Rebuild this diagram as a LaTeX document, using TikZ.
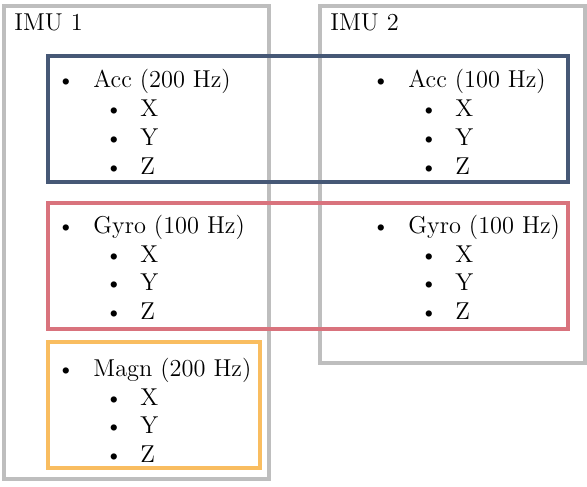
\documentclass[tikz,border=0pt]{standalone}
\usepackage{tikz}
\definecolor{imugray}{RGB}{190,190,190}
\definecolor{accblue}{RGB}{70,88,118}
\definecolor{gyrored}{RGB}{217,115,125}
\definecolor{magnorange}{RGB}{249,189,96}
\tikzset{
  grp/.style={line width=1.6pt},
  txt/.style={anchor=base west, inner sep=0pt, font=\fontsize{12.2}{14}\selectfont},
  bul/.style={anchor=base, inner sep=0pt, font=\fontsize{11.5}{14}\selectfont},
}
\begin{document}
\begin{tikzpicture}[x=0.5pt,y=-0.5pt]
\useasboundingbox (0,0) rectangle (587,486);
% IMU boxes
\draw[grp,imugray] (4,6) rectangle (269,479);
\draw[grp,imugray] (320,6) rectangle (585,363);
% sensor boxes
\draw[grp,accblue] (48,56) rectangle (568,182);
\draw[grp,gyrored] (48,203) rectangle (568,329);
\draw[grp,magnorange] (48,342) rectangle (260,468);
% labels
\node[txt] (imu1) at (14,31) {IMU 1};
\node[txt] (imu2) at (330,31) {IMU 2};
% IMU1 Acc
\node[bul] (b1) at (66,88) {\textbullet};
\node[txt] (acc1) at (93,88) {Acc (200 Hz)};
\node[bul] (b1x) at (114,117) {\textbullet};
\node[txt] (acc1x) at (140,117) {X};
\node[bul] (b1y) at (114,146) {\textbullet};
\node[txt] (acc1y) at (140,146) {Y};
\node[bul] (b1z) at (114,175) {\textbullet};
\node[txt] (acc1z) at (140,175) {Z};
% IMU2 Acc
\node[bul] (b2) at (381,88) {\textbullet};
\node[txt] (acc2) at (408,88) {Acc (100 Hz)};
\node[bul] (b2x) at (429,117) {\textbullet};
\node[txt] (acc2x) at (455,117) {X};
\node[bul] (b2y) at (429,146) {\textbullet};
\node[txt] (acc2y) at (455,146) {Y};
\node[bul] (b2z) at (429,175) {\textbullet};
\node[txt] (acc2z) at (455,175) {Z};
% IMU1 Gyro
\node[bul] (g1) at (66,233) {\textbullet};
\node[txt] (gyr1) at (93,233) {Gyro (100 Hz)};
\node[bul] (g1x) at (114,262) {\textbullet};
\node[txt] (gyr1x) at (140,262) {X};
\node[bul] (g1y) at (114,290) {\textbullet};
\node[txt] (gyr1y) at (140,290) {Y};
\node[bul] (g1z) at (114,319) {\textbullet};
\node[txt] (gyr1z) at (140,319) {Z};
% IMU2 Gyro
\node[bul] (g2) at (381,233) {\textbullet};
\node[txt] (gyr2) at (408,233) {Gyro (100 Hz)};
\node[bul] (g2x) at (429,262) {\textbullet};
\node[txt] (gyr2x) at (455,262) {X};
\node[bul] (g2y) at (429,290) {\textbullet};
\node[txt] (gyr2y) at (455,290) {Y};
\node[bul] (g2z) at (429,319) {\textbullet};
\node[txt] (gyr2z) at (455,319) {Z};
% IMU1 Magn
\node[bul] (m1) at (66,376) {\textbullet};
\node[txt] (mag1) at (93,376) {Magn (200 Hz)};
\node[bul] (m1x) at (114,405) {\textbullet};
\node[txt] (mag1x) at (140,405) {X};
\node[bul] (m1y) at (114,433) {\textbullet};
\node[txt] (mag1y) at (140,433) {Y};
\node[bul] (m1z) at (114,462) {\textbullet};
\node[txt] (mag1z) at (140,462) {Z};
\end{tikzpicture}
\end{document}
